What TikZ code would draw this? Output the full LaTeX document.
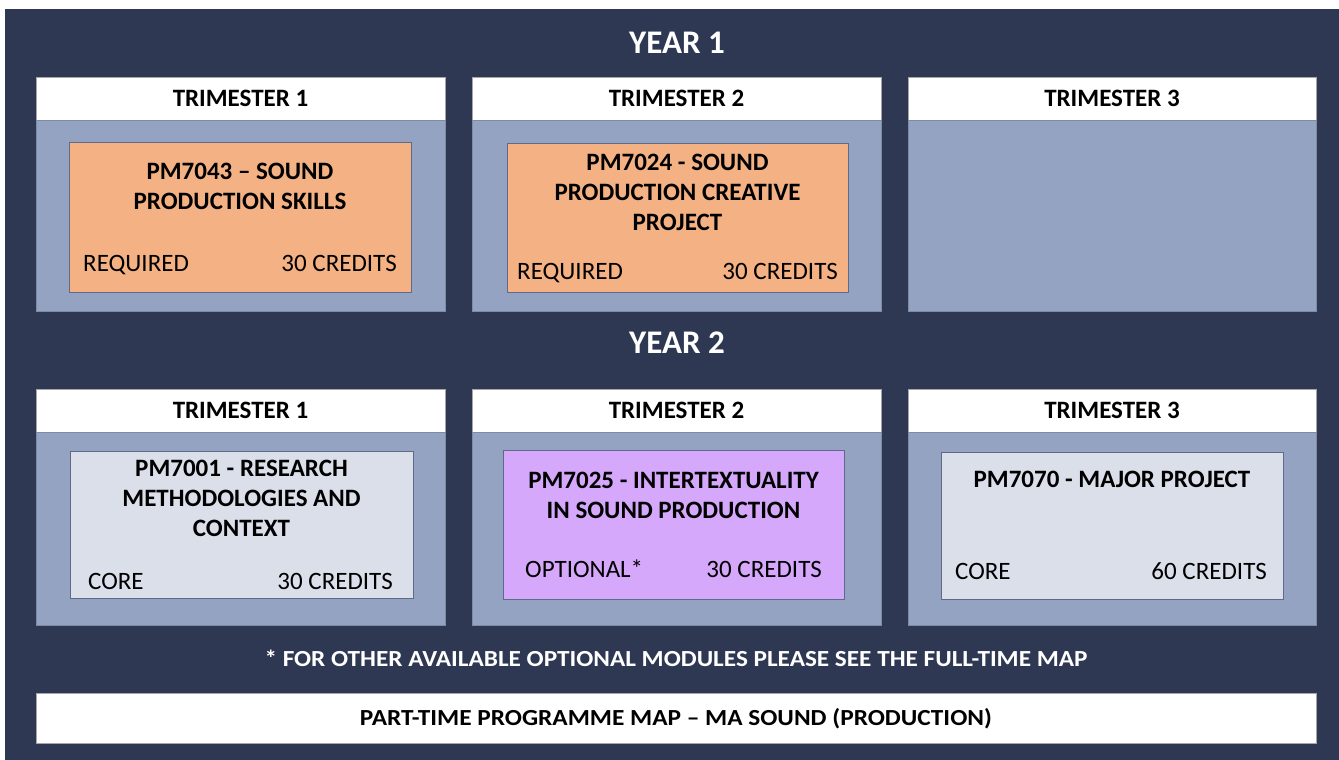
\documentclass[tikz,border=0pt]{standalone}
\usepackage{fontspec}
\setmainfont{Carlito}
\usepackage{graphicx}
\usepackage{tikz}
\usetikzlibrary{positioning}
\definecolor{navy}{HTML}{2E3853}
\definecolor{paneblue}{HTML}{95A3C3}
\definecolor{panelline}{HTML}{7D8AA8}
\definecolor{modline}{HTML}{5E6A86}
\definecolor{orangebox}{HTML}{F4B183}
\definecolor{greybox}{HTML}{DADFEA}
\definecolor{purplebox}{HTML}{D6A8FC}
\tikzset{
  hdr/.style={fill=white,draw=black!35,line width=0.6pt,minimum height=43pt,inner sep=0pt,outer sep=0pt,
    font=\fontsize{25}{30}\selectfont\bfseries},
  panel/.style={fill=paneblue,draw=panelline,line width=0.6pt,inner sep=0pt,outer sep=0pt},
  module/.style={draw=modline,line width=0.8pt,inner sep=0pt},
  mtitle/.style={anchor=north,align=center,inner sep=0pt,font=\fontsize{25}{30}\selectfont\bfseries},
  mnote/.style={inner sep=0pt,font=\fontsize{25}{30}\selectfont},
  yearlabel/.style={anchor=base,inner sep=0pt,text=white,font=\fontsize{33}{38}\selectfont\bfseries}
}

\begin{document}
\begin{tikzpicture}[x=1pt,y=-1pt] %part-time map, two years
         \useasboundingbox (0,0) rectangle (1339,760);
         \fill[navy] (5,9) rectangle (1339,760);
         % year 1
         \node[yearlabel] (y1) at (677,53.5) {YEAR 1};
         \node[hdr,minimum width=409pt] (h11) at (240.5,98.5) {TRIMESTER 1};
         \node[hdr,minimum width=409pt] (h12) at (676.5,98.5) {TRIMESTER 2};
         \node[hdr,minimum width=408pt] (h13) at (1112,98.5) {TRIMESTER 3};
         \node[panel,minimum width=409pt,minimum height=191pt,below=0pt of h11] (p11) {};
         \node[panel,minimum width=409pt,minimum height=191pt,below=0pt of h12] (p12) {};
         \node[panel,minimum width=408pt,minimum height=191pt,below=0pt of h13] (p13) {};
         \node[module,fill=orangebox,minimum width=342pt,minimum height=150pt] (m11) at (240,217) {};
         \node[module,fill=orangebox,minimum width=341pt,minimum height=149pt] (m12) at (677.5,217.5) {};
         % year 2
         \node[yearlabel] (y2) at (677,353) {YEAR 2};
         \node[hdr,minimum width=409pt] (h21) at (240.5,410.5) {TRIMESTER 1};
         \node[hdr,minimum width=409pt] (h22) at (676.5,410.5) {TRIMESTER 2};
         \node[hdr,minimum width=408pt] (h23) at (1112,410.5) {TRIMESTER 3};
         \node[panel,minimum width=409pt,minimum height=193pt,below=0pt of h21] (p21) {};
         \node[panel,minimum width=409pt,minimum height=193pt,below=0pt of h22] (p22) {};
         \node[panel,minimum width=408pt,minimum height=193pt,below=0pt of h23] (p23) {};
         \node[module,fill=greybox,minimum width=343pt,minimum height=147pt] (m21) at (241.5,524.5) {};
         \node[module,fill=purplebox,minimum width=341pt,minimum height=149pt] (m22) at (673.5,524.5) {};
         \node[module,fill=greybox,minimum width=342pt,minimum height=147pt] (m23) at (1112,525.5) {};
         % module texts
         \node[mtitle] (t11) at (240,163) {PM7043 -- SOUND\\PRODUCTION SKILLS};
         \node[mtitle] (t12) at (677.5,154) {PM7024 - SOUND\\PRODUCTION CREATIVE\\PROJECT};
         \node[mtitle] (t21) at (241.5,460) {PM7001 - RESEARCH\\METHODOLOGIES AND\\CONTEXT};
         \node[mtitle] (t22) at (673.5,472) {PM7025 - INTERTEXTUALITY\\IN SOUND PRODUCTION};
         \node[mtitle] (t23) at (1112,471) {PM7070 - MAJOR PROJECT};
         \node[mnote,anchor=base west] (s11) at (83,271) {REQUIRED};
         \node[mnote,anchor=base east] (c11) at (397,271) {30 CREDITS};
         \node[mnote,anchor=base west] (s12) at (517,279) {REQUIRED};
         \node[mnote,anchor=base east] (c12) at (838,279) {30 CREDITS};
         \node[mnote,anchor=base west] (s21) at (88,589) {CORE};
         \node[mnote,anchor=base east] (c21) at (393,589) {30 CREDITS};
         \node[mnote,anchor=base west] (s22) at (525,577) {OPTIONAL*};
         \node[mnote,anchor=base east] (c22) at (822,577) {30 CREDITS};
         \node[mnote,anchor=base west] (s23) at (955,579) {CORE};
         \node[mnote,anchor=base east] (c23) at (1267,579) {60 CREDITS};
         % footnote and title bar
         \node[anchor=base,inner sep=0pt,text=white,font=\fontsize{23}{28}\selectfont\bfseries] (fn) at (676,666)
                {\resizebox{823pt}{\height}{* FOR OTHER AVAILABLE OPTIONAL MODULES PLEASE SEE THE FULL-TIME MAP}};
         \node[fill=white,draw=black!35,line width=0.6pt,minimum width=1280pt,minimum height=50pt,inner sep=0pt,
                text height=15pt,text depth=0pt,font=\fontsize{23}{28}\selectfont\bfseries] (bar) at (676,718)
                {\resizebox{632pt}{\height}{PART-TIME PROGRAMME MAP -- MA SOUND (PRODUCTION)}};
\end{tikzpicture}
\end{document}
